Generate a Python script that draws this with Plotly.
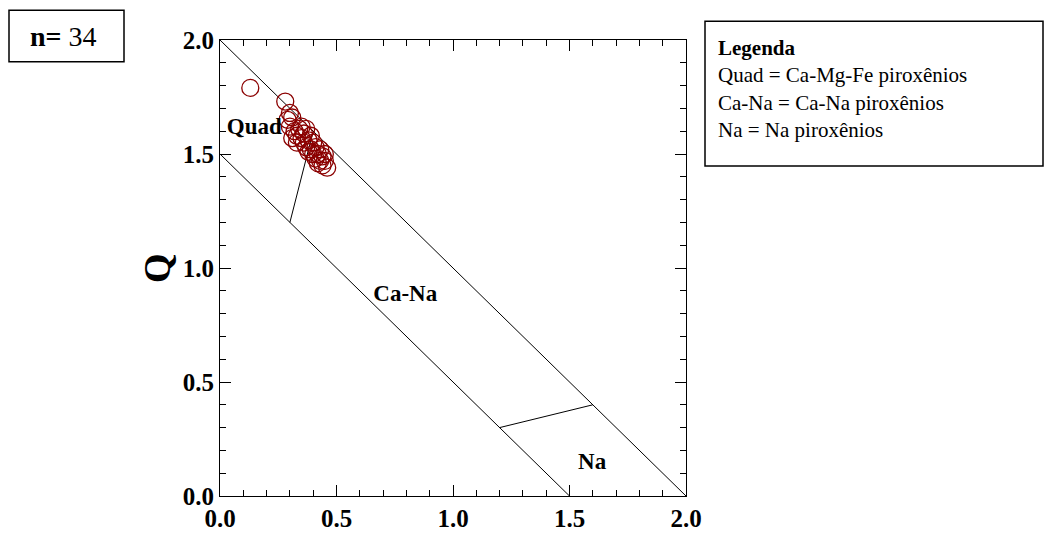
import plotly.graph_objects as go

# Data: J (x) and Q (y) values of 34 pyroxene analyses
j_values = [0.13, 0.28, 0.30, 0.29, 0.31, 0.30, 0.32, 0.31, 0.33, 0.34, 0.35, 0.33,
            0.35, 0.36, 0.37, 0.36, 0.37, 0.38, 0.39, 0.40, 0.38, 0.39, 0.40, 0.41,
            0.41, 0.42, 0.43, 0.43, 0.44, 0.44, 0.45, 0.46, 0.45, 0.42]
q_values = [1.79, 1.73, 1.68, 1.65, 1.66, 1.62, 1.60, 1.57, 1.58, 1.61, 1.62, 1.55,
            1.57, 1.59, 1.61, 1.55, 1.53, 1.56, 1.58, 1.55, 1.51, 1.52, 1.50, 1.53,
            1.48, 1.50, 1.52, 1.47, 1.49, 1.45, 1.47, 1.44, 1.50, 1.46]

# Field boundaries (Morimoto Q-J diagram)
outer_x = [0.0, 2.0]; outer_y = [2.0, 0.0]
inner_x = [0.0, 1.5]; inner_y = [1.5, 0.0]
quad_b_x = [0.3, 0.4]; quad_b_y = [1.2, 1.6]
na_b_x = [1.2, 1.6]; na_b_y = [0.3, 0.4]

field_labels = ["Quad", "Ca-Na", "Na"]
field_x = [0.147, 0.795, 1.597]
field_y = [1.613, 0.88, 0.145]

tick_vals = [0.0, 0.5, 1.0, 1.5, 2.0]
tick_text = ["0.0", "0.5", "1.0", "1.5", "2.0"]

legend_lines = ["<b>Legenda</b>", "Quad = Ca-Mg-Fe piroxênios",
                "Ca-Na = Ca-Na piroxênios", "Na = Na piroxênios"]
n_text = "<b>n=</b> 34"

FONT = "Liberation Serif"

fig = go.Figure()
for xs, ys in [(outer_x, outer_y), (inner_x, inner_y), (quad_b_x, quad_b_y), (na_b_x, na_b_y)]:
    fig.add_trace(go.Scatter(x=xs, y=ys, mode="lines", line=dict(color="black", width=1),
                             showlegend=False, hoverinfo="skip", cliponaxis=False))

fig.add_trace(go.Scatter(x=j_values, y=q_values, mode="markers",
                         marker=dict(symbol="circle-open", size=17, color="#8b0000",
                                     line=dict(width=1.3, color="#8b0000")),
                         showlegend=False))

fig.add_trace(go.Scatter(x=field_x, y=field_y, mode="text", text=[f"<b>{t}</b>" for t in field_labels],
                         textfont=dict(family=FONT, size=23, color="black"),
                         showlegend=False, hoverinfo="skip"))

axis_common = dict(range=[0, 2], tickvals=tick_vals, ticktext=tick_text,
                   ticks="inside", ticklen=11, tickwidth=1, tickcolor="black",
                   showline=True, linecolor="black", linewidth=1, mirror="ticks",
                   showgrid=False, zeroline=False,
                   tickfont=dict(family=FONT, size=25, color="black", weight="bold"),
                   minor=dict(ticks="inside", ticklen=6, dtick=0.1, tickcolor="black", tickwidth=1,
                              showgrid=False))

fig.update_layout(
    width=1044, height=544,
    margin=dict(l=220, r=358, t=40, b=44),
    paper_bgcolor="white", plot_bgcolor="white",
    xaxis=dict(**axis_common),
    yaxis=dict(**axis_common),
    font=dict(family=FONT, color="black"),
)

W, H = 466.0, 460.0
def px(x):
    return (x - 220) / W
def py(y):
    return (500 - y) / H

# Y axis title
fig.add_annotation(x=px(157), y=py(270), xref="paper", yref="paper", text="<b>Q</b>",
                   textangle=-90, showarrow=False, xanchor="center", yanchor="middle",
                   font=dict(family=FONT, size=38, color="black"))

# n box
fig.add_shape(type="rect", xref="paper", yref="paper", x0=px(9), x1=px(124), y0=py(10), y1=py(62),
              line=dict(color="black", width=1.5), fillcolor="white")
fig.add_annotation(x=px(63), y=py(36), xref="paper", yref="paper", text=n_text, showarrow=False,
                   xanchor="center", yanchor="middle",
                   font=dict(family=FONT, size=28, color="black"))

# Legend box
fig.add_shape(type="rect", xref="paper", yref="paper", x0=px(705), x1=px(1043), y0=py(21), y1=py(167),
              line=dict(color="black", width=1.5), fillcolor="white")
fig.add_annotation(x=px(716), y=py(34), xref="paper", yref="paper", text="<br>".join(legend_lines),
                   showarrow=False, xanchor="left", yanchor="top", align="left",
                   font=dict(family=FONT, size=21, color="black"))

fig.write_html("out.html", config={"displayModeBar": False},
               post_script="document.body.style.margin='0';document.body.style.overflow='hidden';")
